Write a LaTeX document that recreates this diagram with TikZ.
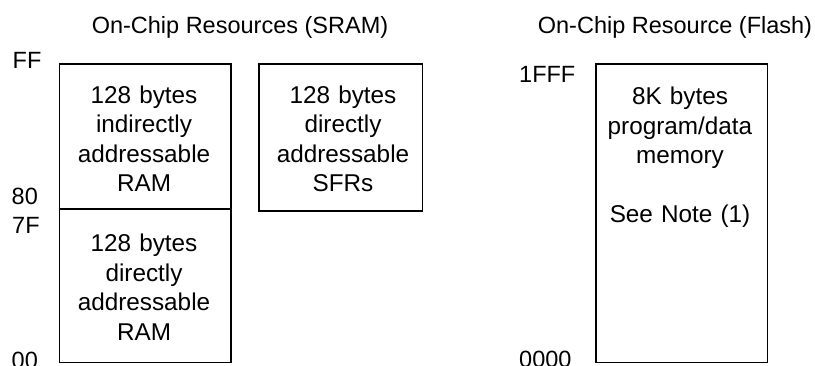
\documentclass[tikz,border=0pt]{standalone}
\usepackage{fontspec}
\setmainfont{Liberation Sans}
\begin{document}
\begin{tikzpicture}[x=1pt,y=-1pt,
  box/.style={draw, line width=1.6pt, inner sep=0, anchor=north west},
  txt/.style={font=\fontsize{24.3}{29.5}\selectfont, inner sep=0, text width=220pt, align=center, anchor=base},
  lab/.style={font=\fontsize{23.5}{29.5}\selectfont, inner sep=0, anchor=base west},
  ttl/.style={font=\fontsize{23.5}{29.5}\selectfont, inner sep=0, anchor=base}]
\useasboundingbox (0,0) rectangle (815,366);
% titles
\node[ttl] (tsram) at (240,33.3) {On-Chip Resources (SRAM)};
\node[ttl] (tflash) at (675,33.3) {On-Chip Resource (Flash)};
% boxes
\node[box, minimum width=171.5pt, minimum height=145pt] (upram) at (58.5,63.3) {};
\node[box, minimum width=171.5pt, minimum height=153.4pt] (loram) at (58.5,208.3) {};
\node[box, minimum width=163.4pt, minimum height=146.7pt] (sfr) at (258.3,63.3) {};
\node[box, minimum width=171.7pt, minimum height=298.4pt] (flash) at (595,63.3) {};
% box texts
\node[txt] (tup) at (144,103.3) {128 bytes\\indirectly\\addressable\\RAM};
\node[txt] (tlo) at (144,251.7) {128 bytes\\directly\\addressable\\RAM};
\node[txt] (tsfr) at (343,103.3) {128 bytes\\directly\\addressable\\SFRs};
\node[txt] (tfl) at (680,105) {8K bytes\\program/data\\memory\\[29.5pt]See Note (1)};
% address labels
\node[lab] (aff) at (12.5,69) {FF};
\node[lab] (a80) at (11.5,205) {80};
\node[lab] (a7f) at (12,233.3) {7F};
\node[lab] (a00) at (11.5,369) {00};
\node[lab] (a1fff) at (519,82.5) {1FFF};
\node[lab] (a0000) at (519,367.5) {0000};
\end{tikzpicture}
\end{document}
